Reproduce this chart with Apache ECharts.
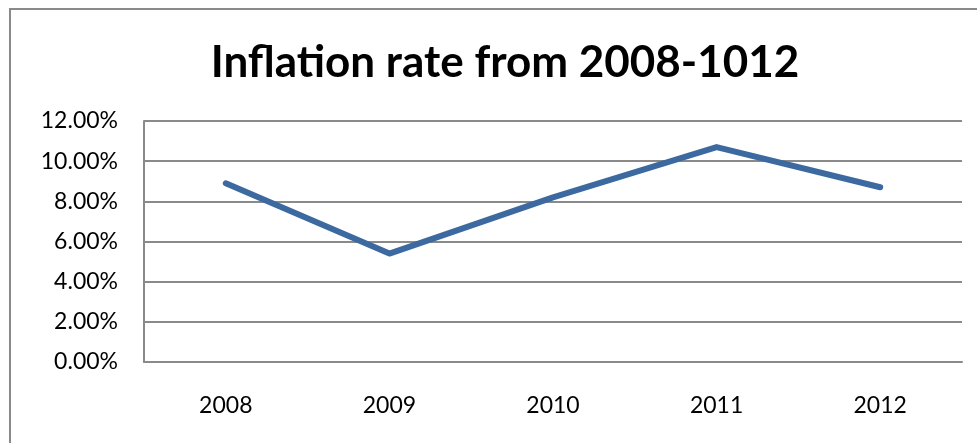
<!DOCTYPE html>
<html>
<head>
<meta charset="utf-8">
<script src="https://cdn.jsdelivr.net/npm/echarts@6/dist/echarts.min.js"></script>
<style>
  html, body { margin: 0; padding: 0; background: #fff; }
  #chart { width: 977px; height: 443px; }
</style>
</head>
<body>
<div id="chart"></div>
<script>
// values
const years = ['2008', '2009', '2010', '2011', '2012'];
const inflation = [0.089, 0.054, 0.082, 0.107, 0.087];
const yTicks = [0, 0.02, 0.04, 0.06, 0.08, 0.10, 0.12];

const chart = echarts.init(document.getElementById('chart'), null, { renderer: 'canvas' });

chart.setOption({
  animation: false,
  backgroundColor: '#fff',
  textStyle: { fontFamily: 'Lato' },
  title: {
    text: 'Inflation rate from 2008-1012',
    left: 500,
    textAlign: 'center',
    top: 36,
    textStyle: {
      fontFamily: 'Lato',
      fontWeight: 'bold',
      fontSize: 44,
      color: '#000'
    }
  },
  // outer frame of the chart object
  graphic: [{
    type: 'rect',
    shape: { x: 10, y: 9, width: 1000, height: 500 },
    style: { fill: 'none', stroke: '#8a8a8a', lineWidth: 2 },
    silent: true
  }],
  grid: { left: 144, right: 15, top: 121, bottom: 81 },
  xAxis: {
    type: 'category',
    data: years,
    boundaryGap: true,
    axisLine: { lineStyle: { color: '#8a8a8a', width: 2 } },
    axisTick: { show: false },
    axisLabel: { color: '#000', fontSize: 23, margin: 32 }
  },
  yAxis: {
    type: 'value',
    min: yTicks[0],
    max: yTicks[yTicks.length - 1],
    interval: 0.02,
    axisLine: { show: true, lineStyle: { color: '#8a8a8a', width: 2 } },
    axisTick: { show: false },
    splitLine: { lineStyle: { color: '#8a8a8a', width: 2 } },
    axisLabel: {
      color: '#000',
      fontSize: 23,
      margin: 26,
      formatter: v => (v * 100).toFixed(2) + '%'
    }
  },
  series: [{
    name: 'Inflation',
    type: 'line',
    data: inflation,
    symbol: 'none',
    lineStyle: { color: '#3c6aa0', width: 6, cap: 'round', join: 'round' }
  }]
});
</script>
</body>
</html>
